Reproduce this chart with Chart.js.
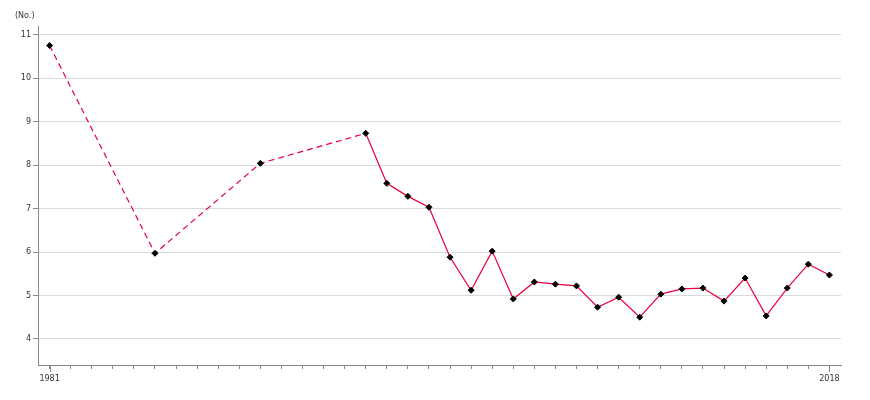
<!DOCTYPE html>
<html>
<head>
<meta charset="utf-8">
<script src="https://cdn.jsdelivr.net/npm/chart.js@4"></script>
<style>
html, body { margin: 0; padding: 0; background: #fff; }
#wrap { position: relative; width: 870px; height: 400px; }
#unit { position: absolute; left: 15px; top: 11px; font: 8px "DejaVu Sans", sans-serif; color: #333; }
</style>
</head>
<body>
<div id="wrap">
<div id="unit">(No.)</div>
<canvas id="lineChart" width="870" height="400"></canvas>
</div>
<script>
// --- Data ---
let years = [1981, 1986, 1991, 1996, 1997, 1998, 1999, 2000, 2001, 2002, 2003, 2004, 2005,
    2006, 2007, 2008, 2009, 2010, 2011, 2012, 2013, 2014, 2015, 2016, 2017, 2018];
let values = [10.75, 5.97, 8.04, 8.73, 7.58, 7.28, 7.03, 5.88, 5.12, 6.02, 4.92, 5.31, 5.26,
    5.22, 4.73, 4.96, 4.50, 5.03, 5.15, 5.17, 4.87, 5.40, 4.53, 5.17, 5.72, 5.47];
let yTicks = [4, 5, 6, 7, 8, 9, 10, 11];
let xLabels = [1981, 2018];

let points = years.map((y, i) => ({ x: y, y: values[i] }));

// gaps in the yearly series are drawn dashed
let lastGapIndex = 3;

let ctx = document.getElementById("lineChart");
let chart = new Chart(ctx, {
    type: 'line',
    data: {
        datasets: [{
            data: points,
            borderColor: '#e8003c',
            borderWidth: 1.2,
            tension: 0,
            pointStyle: 'rectRot',
            pointRadius: 3,
            pointBackgroundColor: '#000',
            pointBorderColor: '#000',
            pointBorderWidth: 1,
            segment: {
                borderDash: c => c.p1DataIndex <= lastGapIndex ? [6, 4] : undefined
            }
        }]
    },
    options: {
        responsive: false,
        animation: false,
        layout: { padding: { top: 26, right: 29, left: 0, bottom: 0 } },
        plugins: { legend: { display: false }, tooltip: { enabled: false } },
        scales: {
            x: {
                type: 'linear',
                min: 1980.45,
                max: 2018.55,
                afterBuildTicks: s => {
                    s.ticks = [];
                    for (let y = xLabels[0]; y <= xLabels[1]; y++) s.ticks.push({ value: y });
                },
                afterFit: s => { s.height = 35; },
                border: { color: '#888', width: 1 },
                grid: { drawOnChartArea: false, color: '#888', tickLength: 4 },
                ticks: {
                    autoSkip: false,
                    maxRotation: 0,
                    padding: 5,
                    color: '#333',
                    font: { family: 'DejaVu Sans', size: 8 },
                    callback: v => xLabels.includes(v) ? String(v) : ''
                }
            },
            y: {
                min: 3.4,
                max: 11.2,
                afterBuildTicks: s => { s.ticks = yTicks.map(v => ({ value: v })); },
                afterFit: s => { s.width = 38; },
                border: { color: '#888', width: 1 },
                grid: { color: '#dadada', tickColor: '#888', tickLength: 5 },
                ticks: {
                    padding: 2,
                    color: '#333',
                    font: { family: 'DejaVu Sans', size: 8 }
                }
            }
        }
    },
    plugins: [{
        // longer tick marks under the labelled years
        id: 'majorTicks',
        afterDraw(c) {
            let xs = c.scales.x, g = c.ctx;
            g.save();
            g.strokeStyle = '#888';
            g.lineWidth = 1;
            xLabels.forEach(v => {
                let px = Math.round(xs.getPixelForValue(v)) + 0.5;
                g.beginPath();
                g.moveTo(px, xs.top);
                g.lineTo(px, xs.top + 7);
                g.stroke();
            });
            g.restore();
        }
    }]
});
</script>
</body>
</html>
